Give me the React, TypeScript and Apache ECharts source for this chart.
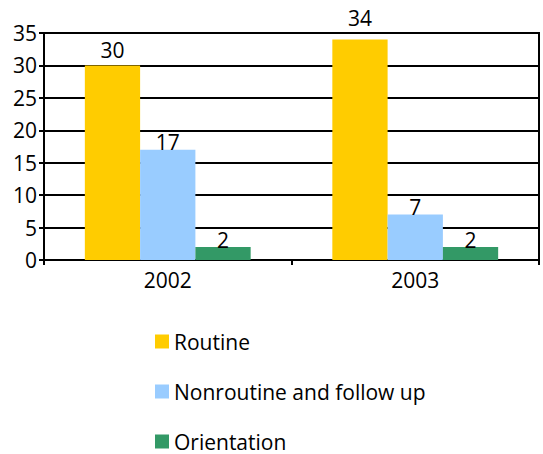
import React, { useEffect, useRef } from "react";
import * as echarts from "echarts";

// Visit counts by year and visit type
const years = ["2002", "2003"];
const routine = [30, 34];
const nonroutine = [17, 7];
const orientation = [2, 2];
const seriesNames = ["Routine", "Nonroutine and follow up", "Orientation"];
const yTicks = { min: 0, max: 35, interval: 5 };

const FONT = "Open Sans";
const FONT_SIZE = 21;
const COLORS = ["#FFCC00", "#99CCFF", "#339966"];
// per-bar label gap above the bar top
const labelGaps = [
  [5, 11],
  [-3, -3],
  [-3, -3],
];

export default function App() {
  const ref = useRef<HTMLDivElement>(null);

  useEffect(() => {
    if (!ref.current) return;
    const chart = echarts.init(ref.current, null, { renderer: "svg" });
    const values = [routine, nonroutine, orientation];
    const option: echarts.EChartsOption = {
      animation: false,
      backgroundColor: "#ffffff",
      textStyle: { fontFamily: FONT, color: "#000" },
      grid: {
        left: 44,
        right: 4,
        top: 33,
        bottom: 194,
        show: true,
        borderColor: "#000",
        borderWidth: 2,
      },
      legend: {
        orient: "vertical",
        left: 155,
        top: 331,
        width: 360,
        height: 200,
        padding: 0,
        itemWidth: 14,
        itemHeight: 14,
        itemGap: 29,
        icon: "rect",
        textStyle: { fontFamily: FONT, fontSize: FONT_SIZE, color: "#000", lineHeight: 20 },
        data: seriesNames,
      },
      xAxis: {
        type: "category",
        data: years,
        axisLine: { show: true, lineStyle: { color: "#000", width: 2 } },
        axisTick: { show: true, length: 5, lineStyle: { color: "#000", width: 2 } },
        axisLabel: { fontFamily: FONT, fontSize: FONT_SIZE, color: "#000", margin: 9 },
        splitLine: { show: false },
      },
      yAxis: {
        type: "value",
        min: yTicks.min,
        max: yTicks.max,
        interval: yTicks.interval,
        axisLine: { show: true, lineStyle: { color: "#000", width: 2 } },
        axisTick: { show: true, length: 5, lineStyle: { color: "#000", width: 2 } },
        axisLabel: { fontFamily: FONT, fontSize: FONT_SIZE, color: "#000", margin: 7 },
        splitLine: { show: true, lineStyle: { color: "#000", width: 2 } },
      },
      series: seriesNames.map((name, si) => ({
        name,
        type: "bar",
        barGap: "0%",
        barCategoryGap: "33%",
        itemStyle: { color: COLORS[si] },
        data: values[si].map((v, di) => ({
          value: v,
          label: { distance: labelGaps[si][di] },
        })),
        label: {
          show: true,
          position: "top",
          fontFamily: FONT,
          fontSize: FONT_SIZE,
          color: "#000",
        },
      })),
    };
    chart.setOption(option);
    return () => chart.dispose();
  }, []);

  return (
    <div
      ref={ref}
      style={{ position: "absolute", left: 0, top: 0, width: 543, height: 454 }}
    />
  );
}
